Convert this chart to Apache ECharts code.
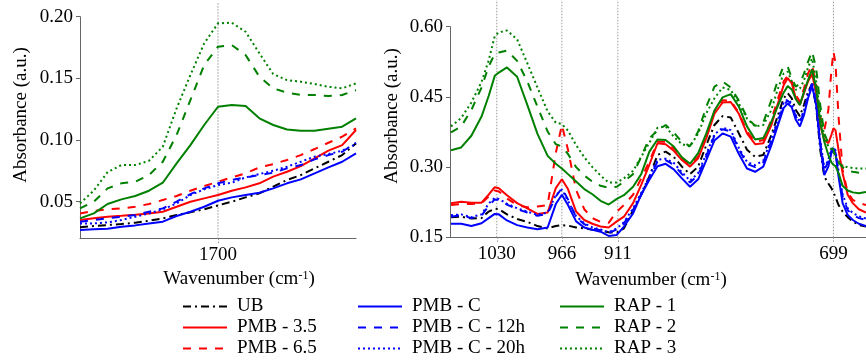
<!DOCTYPE html>
<html><head><meta charset="utf-8">
<script src="https://cdn.jsdelivr.net/npm/echarts@6/dist/echarts.min.js"></script>
<style>html,body{margin:0;padding:0;background:#fff}#c{width:866px;height:360px}
#fontprime{position:absolute;left:-2000px;top:0;font-family:'Liberation Serif';font-size:19px}</style>
</head><body><div id="fontprime">Absorbance Wavenumber 0123456789 PMB UB RAP</div><div id="c"></div>
<script>
const FONT = "Liberation Serif";

// ---- Left panel (carbonyl region) ----
const wnLeft = [1800,1790,1780,1770,1760,1750,1740,1730,1720,1710,1700,1690,1680,1670,1660,1650,1640,1630,1620,1610,1600];
const UB_L     = [0.0292,0.0303,0.0311,0.0319,0.0330,0.0346,0.0365,0.0392,0.0414,0.0438,0.0470,0.0500,0.0535,0.0568,0.0622,0.0676,0.0716,0.0770,0.0824,0.0878,0.0973];
const PMB35_L  = [0.0351,0.0365,0.0378,0.0386,0.0395,0.0405,0.0419,0.0459,0.0500,0.0527,0.0554,0.0589,0.0616,0.0649,0.0703,0.0743,0.0789,0.0851,0.0914,0.0959,0.1081];
const PMB65_L  = [0.0405,0.0424,0.0438,0.0446,0.0459,0.0481,0.0514,0.0546,0.0589,0.0627,0.0662,0.0697,0.0730,0.0778,0.0805,0.0838,0.0878,0.0927,0.0978,0.1027,0.1095];
const PMBC_L   = [0.0270,0.0276,0.0281,0.0297,0.0308,0.0324,0.0338,0.0384,0.0419,0.0459,0.0508,0.0535,0.0554,0.0573,0.0608,0.0649,0.0681,0.0730,0.0778,0.0824,0.0892];
const PMBC12_L = [0.0338,0.0351,0.0365,0.0378,0.0392,0.0419,0.0446,0.0500,0.0562,0.0608,0.0649,0.0676,0.0697,0.0716,0.0735,0.0770,0.0797,0.0843,0.0878,0.0905,0.0978];
const PMBC20_L = [0.0324,0.0324,0.0332,0.0351,0.0378,0.0405,0.0438,0.0486,0.0554,0.0600,0.0635,0.0654,0.0697,0.0724,0.0751,0.0784,0.0824,0.0865,0.0886,0.0914,0.0968];
const RAP1_L   = [0.0365,0.0405,0.0481,0.0519,0.0546,0.0589,0.0654,0.0811,0.0959,0.1122,0.1270,0.1284,0.1276,0.1176,0.1122,0.1086,0.1076,0.1076,0.1092,0.1108,0.1176];
const RAP2_L   = [0.0446,0.0500,0.0608,0.0649,0.0662,0.0716,0.0824,0.1041,0.1324,0.1608,0.1757,0.1770,0.1689,0.1514,0.1419,0.1384,0.1365,0.1365,0.1357,0.1365,0.1405];
const RAP3_L   = [0.0486,0.0590,0.0740,0.0797,0.0797,0.0832,0.0946,0.1257,0.1527,0.1784,0.1946,0.1951,0.1878,0.1703,0.1535,0.1486,0.1473,0.1454,0.1432,0.1419,0.1459];

// ---- Right panel (fingerprint region) ----
const wnRight = [1075,1065,1055,1045,1038,1032,1028,1020,1010,1000,990,980,972,966,960,952,944,936,928,920,912,905,896,888,880,
  872,864,856,848,840,832,824,816,808,800,792,784,776,768,760,754,748,744,740,736,732,728,724,720,716,712,708,704,701,699,697,694,690,685,680,674,667];
const UB_R = [0.193,0.194,0.190,0.191,0.205,0.211,0.210,0.199,0.189,0.183,0.174,0.169,0.174,0.176,0.175,0.171,0.169,0.166,0.164,0.161,0.160,0.169,0.208,0.241,0.280,
  0.326,0.333,0.322,0.301,0.285,0.301,0.347,0.390,0.409,0.406,0.372,0.337,0.322,0.326,0.369,0.408,0.447,0.458,0.447,0.422,0.409,0.433,0.461,0.478,0.429,0.337,0.280,0.265,0.255,0.246,0.236,0.219,0.205,0.193,0.184,0.176,0.173];
const PMB35_R = [0.223,0.226,0.224,0.224,0.241,0.257,0.255,0.240,0.223,0.212,0.200,0.203,0.255,0.274,0.253,0.205,0.187,0.179,0.173,0.171,0.184,0.194,0.223,0.262,0.305,
  0.351,0.349,0.335,0.315,0.301,0.319,0.362,0.414,0.438,0.439,0.414,0.372,0.349,0.351,0.390,0.433,0.475,0.490,0.479,0.447,0.433,0.458,0.483,0.499,0.458,0.390,0.358,0.351,0.369,0.383,0.379,0.337,0.287,0.241,0.223,0.210,0.203];
const PMB65_R = [0.219,0.221,0.221,0.223,0.237,0.250,0.248,0.233,0.219,0.214,0.216,0.219,0.330,0.390,0.337,0.251,0.210,0.191,0.183,0.181,0.205,0.219,0.241,0.276,0.312,
  0.354,0.354,0.340,0.319,0.305,0.322,0.365,0.419,0.443,0.442,0.416,0.376,0.354,0.358,0.401,0.443,0.483,0.495,0.485,0.454,0.440,0.468,0.500,0.518,0.475,0.408,0.379,0.422,0.508,0.547,0.522,0.408,0.294,0.246,0.230,0.223,0.219];
const PMBC_R = [0.179,0.179,0.174,0.180,0.191,0.200,0.199,0.186,0.176,0.171,0.167,0.171,0.221,0.241,0.219,0.184,0.171,0.166,0.162,0.153,0.155,0.173,0.201,0.241,0.273,
  0.302,0.307,0.295,0.276,0.258,0.274,0.315,0.357,0.372,0.365,0.328,0.297,0.290,0.301,0.347,0.387,0.426,0.436,0.428,0.401,0.387,0.411,0.447,0.473,0.433,0.347,0.283,0.301,0.330,0.337,0.331,0.280,0.223,0.198,0.187,0.179,0.174];
const PMBC12_R = [0.194,0.197,0.191,0.196,0.217,0.231,0.230,0.220,0.210,0.203,0.196,0.200,0.237,0.255,0.231,0.193,0.178,0.169,0.165,0.159,0.167,0.180,0.208,0.241,0.276,
  0.312,0.315,0.305,0.285,0.267,0.283,0.324,0.367,0.381,0.376,0.338,0.307,0.300,0.310,0.357,0.395,0.433,0.442,0.433,0.408,0.394,0.419,0.452,0.478,0.436,0.354,0.294,0.312,0.335,0.340,0.333,0.287,0.237,0.208,0.198,0.191,0.187];
const PMBC20_R = [0.197,0.199,0.193,0.199,0.222,0.234,0.232,0.222,0.212,0.205,0.198,0.203,0.240,0.252,0.228,0.195,0.180,0.171,0.167,0.161,0.169,0.182,0.212,0.245,0.280,
  0.316,0.318,0.309,0.289,0.271,0.287,0.328,0.370,0.384,0.379,0.341,0.311,0.304,0.314,0.361,0.399,0.437,0.445,0.436,0.411,0.397,0.422,0.455,0.480,0.440,0.358,0.298,0.316,0.338,0.342,0.336,0.292,0.242,0.212,0.202,0.195,0.190];
const RAP1_R = [0.336,0.342,0.367,0.408,0.452,0.495,0.502,0.513,0.493,0.433,0.371,0.324,0.307,0.297,0.285,0.269,0.253,0.242,0.228,0.220,0.232,0.240,0.258,0.285,0.333,
  0.359,0.358,0.344,0.321,0.307,0.330,0.372,0.421,0.449,0.456,0.429,0.387,0.359,0.362,0.397,0.429,0.459,0.473,0.466,0.445,0.433,0.461,0.486,0.509,0.468,0.397,0.354,0.326,0.310,0.305,0.302,0.287,0.260,0.250,0.246,0.244,0.247];
const RAP2_R = [0.374,0.387,0.422,0.470,0.515,0.542,0.545,0.549,0.527,0.483,0.429,0.376,0.349,0.344,0.328,0.300,0.282,0.269,0.260,0.256,0.258,0.269,0.285,0.322,0.362,
  0.378,0.390,0.374,0.354,0.345,0.376,0.429,0.472,0.483,0.470,0.442,0.406,0.388,0.395,0.443,0.483,0.516,0.515,0.490,0.472,0.478,0.500,0.525,0.547,0.511,0.433,0.372,0.351,0.342,0.337,0.322,0.310,0.300,0.292,0.290,0.288,0.287];
const RAP3_R = [0.387,0.405,0.438,0.482,0.528,0.580,0.588,0.592,0.573,0.522,0.470,0.419,0.395,0.392,0.378,0.347,0.321,0.300,0.282,0.267,0.267,0.276,0.292,0.322,0.352,
  0.384,0.387,0.365,0.349,0.344,0.372,0.415,0.447,0.470,0.465,0.436,0.404,0.387,0.390,0.422,0.465,0.500,0.504,0.483,0.465,0.468,0.485,0.513,0.532,0.483,0.415,0.365,0.344,0.338,0.333,0.322,0.312,0.302,0.300,0.298,0.297,0.297];

// ---- Ticks / guide lines ----
const xTicksLeft = [1700];
const yTicksLeft = [0.05, 0.10, 0.15, 0.20];
const xTicksRight = [1030, 966, 911, 699];
const yTicksRight = [0.15, 0.30, 0.45, 0.60];
const legendCols = [['UB','PMB - 3.5','PMB - 6.5'],['PMB - C','PMB - C - 12h','PMB - C - 20h'],['RAP - 1','RAP - 2','RAP - 3']];

const RED='#ff0000', BLUE='#0000ff', GREEN='#008000', BLACK='#000000';
const DASH=[8,8], DOT=[2,3], DASHDOT=[8,4,2,4];
const samples = [
  {name:'UB', color:BLACK, type:DASHDOT, L:UB_L, R:UB_R},
  {name:'PMB - 3.5', color:RED, type:'solid', L:PMB35_L, R:PMB35_R},
  {name:'PMB - 6.5', color:RED, type:DASH, L:PMB65_L, R:PMB65_R},
  {name:'PMB - C', color:BLUE, type:'solid', L:PMBC_L, R:PMBC_R},
  {name:'PMB - C - 12h', color:BLUE, type:DASH, L:PMBC12_L, R:PMBC12_R},
  {name:'PMB - C - 20h', color:BLUE, type:DOT, L:PMBC20_L, R:PMBC20_R},
  {name:'RAP - 1', color:GREEN, type:'solid', L:RAP1_L, R:RAP1_R},
  {name:'RAP - 2', color:GREEN, type:DASH, L:RAP2_L, R:RAP2_R},
  {name:'RAP - 3', color:GREEN, type:DOT, L:RAP3_L, R:RAP3_R}
];

const series = [];
// vertical dotted guide lines at the marked wavenumbers (drawn from the tick arrays)
function guideSeries(ticks, grid, y0, y1){
  ticks.forEach(t => series.push({name:'_guide', type:'line', xAxisIndex:grid, yAxisIndex:grid, symbol:'none',
    clip:false, silent:true, z:1, emphasis:{disabled:true},
    lineStyle:{color:'#999999', width:1, type:[1.5,1.5]}, data:[[t, y0],[t, y1]]}));
}
guideSeries(xTicksLeft, 0, 0.02, 0.211);
guideSeries(xTicksRight, 1, 0.15, 0.657);

samples.forEach((s) => {
  series.push({name:s.name, type:'line', xAxisIndex:0, yAxisIndex:0, symbol:'none', clip:false, z:2,
    lineStyle:{color:s.color, width:2, type:s.type}, itemStyle:{color:s.color},
    emphasis:{disabled:true}, data: wnLeft.map((w,k)=>[w, s.L[k]])});
  series.push({name:s.name, type:'line', xAxisIndex:1, yAxisIndex:1, symbol:'none', clip:false, z:2,
    lineStyle:{color:s.color, width:2, type:s.type}, itemStyle:{color:s.color},
    emphasis:{disabled:true}, data: wnRight.map((w,k)=>[w, s.R[k]])});
});

const axisColor = '#666';
const lbl = {fontFamily:FONT, fontSize:19, color:'#000'};
function xAxis(grid, min, max, ticks){
  return {gridIndex:grid, type:'value', inverse:true, min:min, max:max,
    axisLine:{show:true, onZero:false, lineStyle:{color:axisColor, width:1}},
    axisTick:{show:true, length:5, customValues:ticks, lineStyle:{color:'#999999', type:[1.5,1.5]}},
    axisLabel:Object.assign({customValues:ticks, margin:7, formatter:v=>String(v)}, lbl),
    splitLine:{show:false}};
}
function yAxis(grid, min, max, ticks){
  return {gridIndex:grid, type:'value', min:min, max:max,
    axisLine:{show:true, onZero:false, lineStyle:{color:axisColor, width:1}},
    axisTick:{show:true, length:4, customValues:ticks, lineStyle:{color:axisColor}},
    axisLabel:Object.assign({customValues:ticks, margin:7, formatter:v=>v.toFixed(2)}, lbl),
    splitLine:{show:false}};
}

const legendLefts = [182, 357, 559];
const legends = legendCols.map((col, i) => ({
  data: col, orient:'vertical', left: legendLefts[i], top: 297, height: 90, padding: 0,
  itemWidth:44, itemHeight:14, itemGap:2, selectedMode:false,
  itemStyle:{color:'rgba(0,0,0,0)', borderColor:'rgba(0,0,0,0)', borderWidth:0, opacity:0},
  textStyle:{fontFamily:FONT, fontSize:19, color:'#000', padding:[0,0,0,5]}
}));

const titleRich = {a:{fontFamily:FONT, fontSize:19, fill:'#000'}, s:{fontFamily:FONT, fontSize:12, fill:'#000', verticalAlign:'top'}};
const graphic = [
  {type:'text', x:239, y:279, style:{text:'{a|Wavenumber (cm}{s|-1}{a|)}', rich:titleRich, align:'center', verticalAlign:'middle'}},
  {type:'text', x:651, y:280, style:{text:'{a|Wavenumber (cm}{s|-1}{a|)}', rich:titleRich, align:'center', verticalAlign:'middle'}},
  {type:'text', x:21, y:115, rotation:Math.PI/2, style:{text:'Absorbance (a.u.)', fontFamily:FONT, fontSize:19, fill:'#000', align:'center', verticalAlign:'middle'}},
  {type:'text', x:392, y:116, rotation:Math.PI/2, style:{text:'Absorbance (a.u.)', fontFamily:FONT, fontSize:19, fill:'#000', align:'center', verticalAlign:'middle'}}
];

const option = {
  animation:false,
  backgroundColor:'#fff',
  textStyle:{fontFamily:FONT},
  grid:[
    {left:80, top:16.7, width:276, height:222},
    {left:450, top:26.7, width:416, height:210.6}
  ],
  xAxis:[xAxis(0, 1600, 1800, xTicksLeft), xAxis(1, 667, 1076, xTicksRight)],
  yAxis:[yAxis(0, 0.02, 0.20, yTicksLeft), yAxis(1, 0.15, 0.60, yTicksRight)],
  legend: legends,
  graphic: graphic,
  series: series
};
const chart = echarts.init(document.getElementById('c'));
chart.setOption(option);
if (document.fonts && document.fonts.load) {
  document.fonts.load('19px "Liberation Serif"').then(() => { chart.setOption(option, true); });
}
</script>
</body></html>
